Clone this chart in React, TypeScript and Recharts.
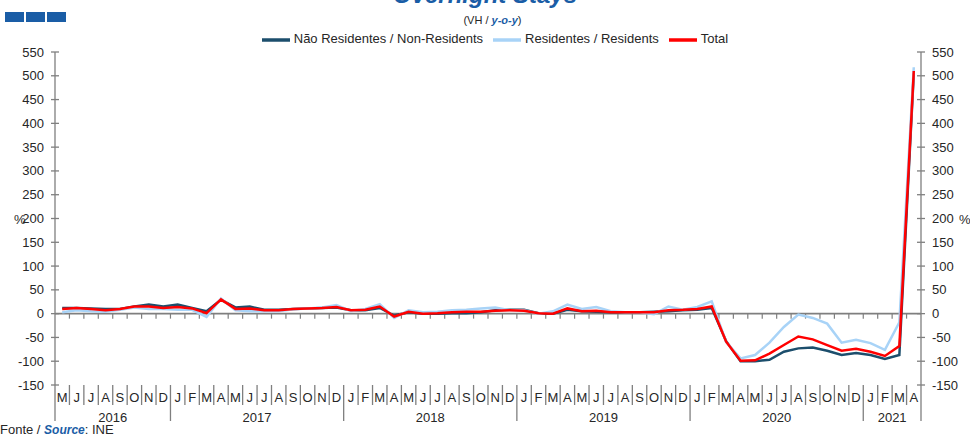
import { LineChart, Line, XAxis, YAxis, ReferenceLine, Legend } from "recharts";

const monthLetters = [
  "M", "J", "J", "A", "S", "O", "N", "D",
  "J", "F", "M", "A", "M", "J", "J", "A", "S", "O", "N", "D",
  "J", "F", "M", "A", "M", "J", "J", "A", "S", "O", "N", "D",
  "J", "F", "M", "A", "M", "J", "J", "A", "S", "O", "N", "D",
  "J", "F", "M", "A", "M", "J", "J", "A", "S", "O", "N", "D",
  "J", "F", "M", "A",
];
const yearLabels = ["2016", "2017", "2018", "2019", "2020", "2021"];
const yearLengths = [8, 12, 12, 12, 12, 4];

const nonResidents = [
  12, 12, 11, 10, 10, 15, 19, 15, 19, 12, 5, 29,
  13, 15, 8, 8, 10, 11, 12, 13, 7, 7, 12, -4,
  3, 0, 0, 1, 1, 3, 7, 8, 8, 1, 0, 8,
  5, 4, 3, 3, 3, 4, 5, 7, 8, 12,
  -58, -100, -100, -97, -80, -73, -71, -78, -87, -83, -87, -95, -87, 505,
];
const residents = [
  3, 7, 5, 4, 8, 13, 10, 10, 8, 8, -7, 32,
  7, 5, 5, 5, 9, 11, 13, 18, 5, 10, 20, -9,
  7, 3, 4, 7, 8, 11, 13, 7, 7, 0, 5, 19,
  10, 14, 5, 3, 3, -1, 15, 8, 14, 26,
  -60, -94, -87, -61, -28, -2, -9, -21, -61, -55, -62, -76, -18, 518,
];
const total = [
  10, 12, 10, 7, 10, 15, 15, 12, 14, 11, 1, 30,
  10, 11, 7, 7, 10, 11, 12, 14, 7, 8, 15, -6,
  4, 0, 1, 3, 4, 4, 6, 7, 6, 1, 0, 11,
  5, 6, 3, 3, 3, 3, 7, 8, 10, 15,
  -59, -99, -98, -84, -66, -48, -54, -66, -78, -74, -80, -89, -68, 510,
];
const yTicks = [-150, -100, -50, 0, 50, 100, 150, 200, 250, 300, 350, 400, 450, 500, 550];

const BLUE = "#1a5da6";
const AXIS = "#7f7f7f";
const TEXT = "#262626";

// first index of each year, to place year labels and long separators
const yearStart: number[] = [];
yearLengths.reduce((acc, n) => {
  yearStart.push(acc);
  return acc + n;
}, 0);

const data = monthLetters.map((m, i) => ({
  key: `p${i}`,
  month: m,
  nonRes: nonResidents[i],
  res: residents[i],
  total: total[i],
}));

const MonthTick = (props: any) => {
  const { x, y, index, payload } = props;
  const bw = payload && payload.offset ? payload.offset * 2 : 866 / 60;
  const left = x - bw / 2;
  const yi = yearStart.indexOf(index);
  const last = index === monthLetters.length - 1;
  return (
    <g>
      <line x1={left} x2={left} y1={y} y2={yi >= 0 ? y + 36 : y + 20} stroke={AXIS} strokeWidth={1.3} />
      {last && <line x1={left + bw} x2={left + bw} y1={y} y2={y + 36} stroke={AXIS} strokeWidth={1.3} />}
      <text x={x} y={y + 17} textAnchor="middle" fontSize={13} fill={TEXT}>
        {monthLetters[index]}
      </text>
      {yi >= 0 && (
        <text x={left + (yearLengths[yi] * bw) / 2} y={y + 37} textAnchor="middle" fontSize={13} fill={TEXT}>
          {yearLabels[yi]}
        </text>
      )}
    </g>
  );
};

const LeftTick = (props: any) => {
  const { x, y, payload } = props;
  return (
    <g>
      <line x1={x + 7} x2={x + 15} y1={y} y2={y} stroke={AXIS} strokeWidth={1.3} />
      <text x={x} y={y + 4.5} textAnchor="end" fontSize={13} fill={TEXT}>
        {payload.value}
      </text>
    </g>
  );
};

const RightTick = (props: any) => {
  const { x, y, payload } = props;
  return (
    <g>
      <line x1={x - 15} x2={x - 7} y1={y} y2={y} stroke={AXIS} strokeWidth={1.3} />
      <text x={x} y={y + 4.5} textAnchor="start" fontSize={13} fill={TEXT}>
        {payload.value}
      </text>
    </g>
  );
};

// zero line with a small tick at every month boundary
const ZeroLine = (props: any) => {
  const { x1, x2, y1 } = props;
  const n = monthLetters.length;
  const step = (x2 - x1) / n;
  const marks = [];
  for (let k = 1; k < n; k++) {
    marks.push(
      <line key={k} x1={x1 + k * step} x2={x1 + k * step} y1={y1} y2={y1 + 5} stroke={AXIS} strokeWidth={1.2} />
    );
  }
  return (
    <g>
      <line x1={x1} x2={x2} y1={y1} y2={y1} stroke={AXIS} strokeWidth={1.8} />
      {marks}
    </g>
  );
};

export default function App() {
  return (
    <div
      style={{
        position: "relative",
        width: 970,
        height: 435,
        overflow: "hidden",
        background: "#fff",
        fontFamily: "'Liberation Sans', Arial, sans-serif",
        color: TEXT,
      }}
    >
      <style>{`body { margin: 0; }`}</style>
      <div style={{ position: "absolute", left: 5, top: 12, display: "flex", gap: 2 }}>
        <div style={{ width: 19, height: 10, background: BLUE }} />
        <div style={{ width: 19, height: 10, background: BLUE }} />
        <div style={{ width: 19, height: 10, background: BLUE }} />
      </div>
      <div
        style={{
          position: "absolute",
          left: 0,
          width: 970,
          top: -19,
          textAlign: "center",
          fontSize: 24,
          fontWeight: 700,
          fontStyle: "italic",
          color: BLUE,
        }}
      >
        Overnight Stays
      </div>
      <div style={{ position: "absolute", left: 0, width: 985, top: 14, textAlign: "center", fontSize: 11 }}>
        (VH / <span style={{ color: BLUE, fontStyle: "italic", fontWeight: 700 }}>y-o-y</span>)
      </div>
      <div style={{ position: "absolute", left: 0, top: 0 }}>
        <LineChart width={970} height={435} data={data} margin={{ top: 24, right: 0, left: 0, bottom: 0 }}>
          <Legend
            verticalAlign="top"
            align="center"
            iconSize={28}
            wrapperStyle={{ top: 26, left: 15, width: 970, fontSize: 13 }}
            formatter={(value: string) => <span style={{ color: TEXT }}>{value}</span>}
          />
          <XAxis
            dataKey="key"
            scale="band"
            interval={0}
            tickLine={false}
            axisLine={false}
            tickSize={0}
            tickMargin={0}
            height={50}
            tick={<MonthTick />}
          />
          <YAxis
            yAxisId="left"
            orientation="left"
            width={55}
            domain={[-150, 550]}
            ticks={yTicks}
            interval={0}
            tickSize={4}
            tickMargin={7}
            tickLine={false}
            axisLine={{ stroke: AXIS, strokeWidth: 1.3 }}
            tick={<LeftTick />}
          />
          <YAxis
            yAxisId="right"
            orientation="right"
            width={49}
            domain={[-150, 550]}
            ticks={yTicks}
            interval={0}
            tickSize={4}
            tickMargin={7}
            tickLine={false}
            axisLine={{ stroke: AXIS, strokeWidth: 1.3 }}
            tick={<RightTick />}
          />
          <ReferenceLine yAxisId="left" y={0} shape={<ZeroLine />} />
          <Line
            yAxisId="right"
            dataKey="total"
            stroke="transparent"
            strokeWidth={0}
            dot={false}
            legendType="none"
            isAnimationActive={false}
          />
          <Line
            yAxisId="left"
            type="linear"
            dataKey="nonRes"
            name="Não Residentes / Non-Residents"
            stroke="#1c4e6c"
            strokeWidth={2.5}
            dot={false}
            legendType="plainline"
            isAnimationActive={false}
          />
          <Line
            yAxisId="left"
            type="linear"
            dataKey="res"
            name="Residentes / Residents"
            stroke="#a8d3f7"
            strokeWidth={2.5}
            dot={false}
            legendType="plainline"
            isAnimationActive={false}
          />
          <Line
            yAxisId="left"
            type="linear"
            dataKey="total"
            name="Total"
            stroke="#ff0000"
            strokeWidth={2.5}
            dot={false}
            legendType="plainline"
            isAnimationActive={false}
          />
        </LineChart>
      </div>
      <div style={{ position: "absolute", left: 14, top: 212, fontSize: 13 }}>%</div>
      <div style={{ position: "absolute", left: 959, top: 212, fontSize: 13 }}>%</div>
      <div style={{ position: "absolute", left: 0, top: 422, fontSize: 13 }}>
        Fonte / <span style={{ color: BLUE, fontStyle: "italic", fontWeight: 700, fontSize: 12 }}>Source</span>: INE
      </div>
    </div>
  );
}
